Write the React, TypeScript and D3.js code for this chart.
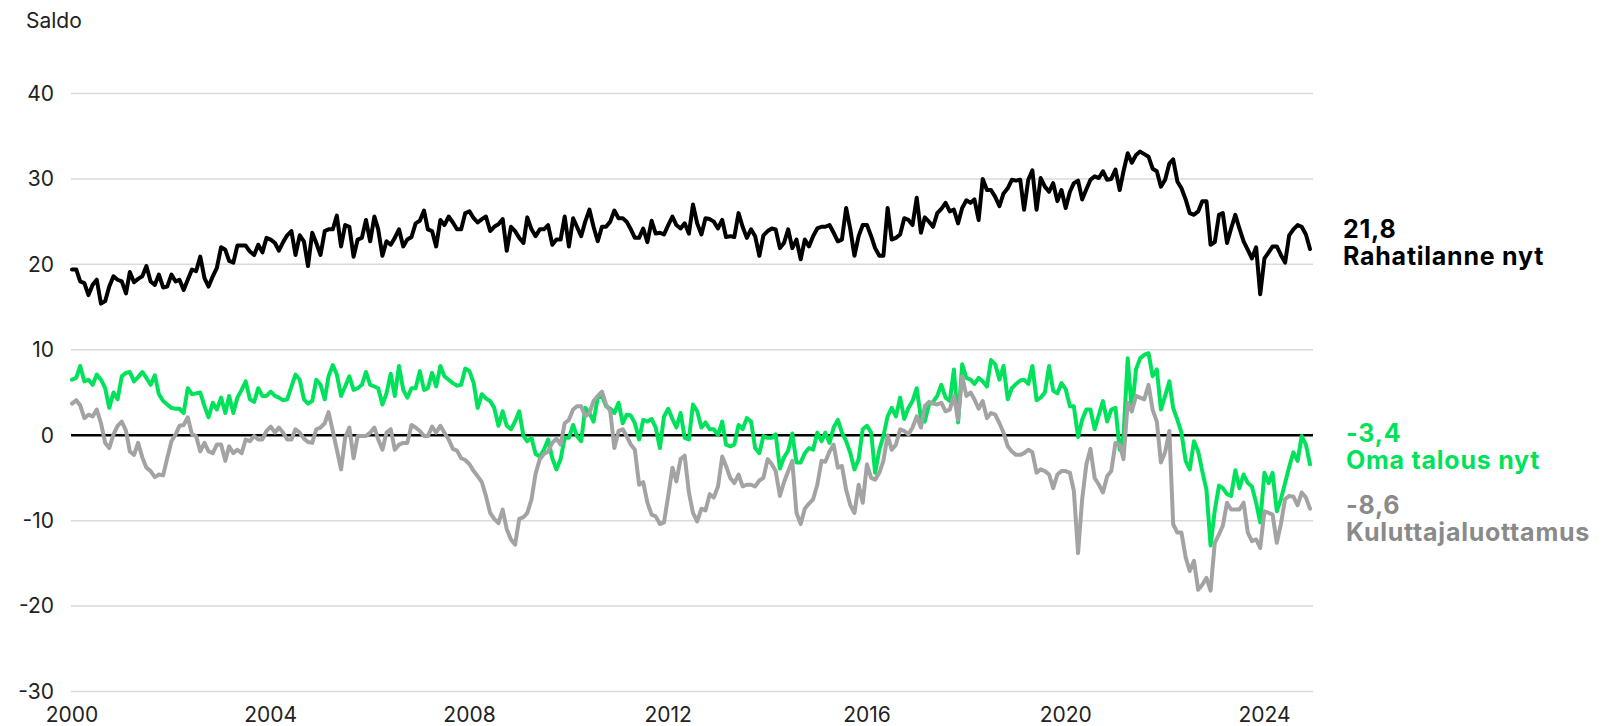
import React from "react";
import * as d3 from "d3";

const width = 1623;
const height = 726;

const GREEN = "#00e25b";
const GRAY_LINE = "#a3a3a3";
const GRAY_TEXT = "#8a8a8a";
const FONT = "Inter, 'Noto Sans', sans-serif";

// monthly observations, Jan 2000 .. Dec 2024
const months = d3.timeMonths(new Date(2000, 0, 1), new Date(2025, 0, 1));
const yearTicks = [2000, 2004, 2008, 2012, 2016, 2020, 2024];
const yTicks = [-30, -20, -10, 0, 10, 20, 30, 40];

// Rahatilanne nyt
const rahatilanne = [
  19.4, 19.4, 18.0, 17.8, 16.4, 17.6, 18.2, 15.4, 15.7, 17.4, 18.6, 18.2,
  18.0, 16.6, 19.1, 17.9, 18.3, 18.6, 19.8, 18.0, 17.6, 18.8, 17.3, 17.4,
  18.8, 18.0, 18.2, 17.0, 18.2, 19.4, 19.2, 20.9, 18.4, 17.4, 18.6, 19.6,
  22.0, 21.7, 20.4, 20.2, 22.2, 22.2, 22.2, 21.5, 21.1, 22.3, 21.4, 23.1,
  22.9, 22.5, 21.6, 22.6, 23.4, 23.9, 21.1, 23.4, 22.7, 19.8, 23.7, 22.5,
  21.1, 23.9, 24.1, 24.1, 25.7, 22.1, 24.6, 24.4, 20.9, 22.9, 23.1, 25.2,
  22.7, 25.6, 24.1, 21.0, 22.7, 22.3, 23.1, 24.1, 22.1, 22.9, 23.2, 24.8,
  25.1, 26.3, 24.1, 23.9, 22.1, 25.2, 24.6, 25.6, 24.9, 24.1, 24.1, 26.0,
  26.2, 25.4, 24.9, 25.3, 25.6, 23.9, 24.4, 24.7, 25.3, 21.6, 24.4, 23.9,
  23.1, 22.5, 25.5, 24.1, 23.3, 24.1, 24.1, 24.6, 22.3, 22.9, 22.9, 25.6,
  22.1, 25.4, 24.4, 23.3, 25.0, 26.4, 24.4, 22.7, 24.4, 24.4, 25.0, 26.3,
  25.4, 25.4, 25.0, 24.1, 23.1, 23.1, 24.2, 22.6, 25.1, 23.6, 23.7, 23.5,
  24.6, 25.6, 24.6, 24.2, 24.8, 23.6, 27.0, 24.8, 23.5, 25.4, 25.3, 25.0,
  24.2, 25.2, 23.2, 23.3, 23.2, 26.0, 24.4, 23.1, 24.1, 23.3, 21.0, 23.4,
  23.9, 24.2, 24.1, 21.9, 22.5, 24.1, 21.9, 22.9, 20.6, 22.9, 22.1, 23.3,
  24.2, 24.4, 24.4, 24.6, 23.7, 22.7, 22.9, 26.6, 24.1, 21.0, 23.3, 24.6,
  24.6, 23.3, 21.9, 21.0, 21.0, 26.6, 22.9, 23.1, 23.5, 25.4, 25.2, 24.6,
  27.8, 23.7, 25.5, 25.0, 24.4, 26.0, 26.5, 27.2, 26.2, 26.4, 24.8, 26.6,
  27.5, 27.2, 27.6, 25.2, 30.0, 28.7, 28.7, 27.9, 26.8, 28.3, 28.9, 29.9,
  29.8, 29.9, 26.4, 29.9, 31.0, 26.4, 30.1, 29.1, 28.5, 29.5, 27.4, 28.7,
  26.6, 28.5, 29.5, 29.8, 27.6, 28.8, 29.9, 30.3, 30.1, 30.9, 29.9, 30.0,
  31.1, 28.7, 30.9, 33.0, 31.9, 32.8, 33.2, 32.9, 32.6, 31.2, 30.9, 29.1,
  29.9, 31.8, 32.3, 29.7, 28.9, 27.6, 26.0, 25.8, 26.2, 27.4, 27.4, 22.3,
  22.6, 25.8, 26.0, 22.5, 24.2, 25.8, 24.2, 22.7, 21.7, 20.7, 22.0, 16.5,
  20.7, 21.4, 22.1, 22.1, 21.1, 20.2, 23.4, 24.1, 24.6, 24.4, 23.5, 21.8,
];

// Oma talous nyt
const omaTalous = [
  6.5, 6.7, 8.1, 6.3, 6.5, 5.9, 7.1, 6.5, 5.5, 3.2, 5.0, 4.2,
  6.9, 7.3, 7.4, 6.3, 6.8, 7.4, 6.7, 5.9, 7.0, 4.8, 4.0, 3.6,
  3.2, 3.1, 3.1, 2.6, 5.5, 4.8, 4.9, 5.0, 3.4, 2.1, 3.8, 3.0,
  4.4, 2.6, 4.6, 2.6, 4.4, 5.3, 6.3, 4.2, 3.9, 5.5, 4.6, 4.6,
  5.1, 4.6, 4.4, 4.1, 4.2, 5.7, 7.1, 6.5, 4.2, 3.7, 4.0, 6.5,
  5.9, 4.2, 6.9, 8.2, 7.1, 4.6, 5.7, 6.9, 5.3, 5.5, 5.9, 7.4,
  5.9, 5.7, 5.5, 3.6, 4.9, 7.2, 4.6, 8.1, 5.3, 4.4, 5.5, 5.5,
  7.5, 5.3, 5.5, 7.3, 5.7, 8.1, 6.9, 6.5, 6.1, 5.8, 5.9, 7.8,
  7.5, 6.1, 3.2, 4.8, 4.3, 4.0, 3.2, 1.1, 2.8, 1.1, 0.7, 1.6,
  2.8, -0.1, -0.7, -0.3, -2.2, -2.5, -1.7, -0.5, -2.7, -4.0, -2.8, -0.3,
  -0.3, 1.2, -0.1, -0.7, 3.2, 2.6, 1.6, 4.4, 4.6, 3.4, 3.1, 2.6,
  3.8, 1.4, 2.4, 2.3, 1.4, -0.5, 1.8, 1.6, 1.9, 0.9, -1.5, 2.2,
  3.1, 1.9, 0.9, 2.6, -0.3, -0.5, 3.6, 2.8, 0.9, 1.5, 0.7, 0.7,
  0.0, 1.6, -1.1, -1.3, -1.1, 1.2, 0.7, 2.0, 1.6, -1.5, -2.1, -0.1,
  -0.3, -0.3, 0.1, -3.9, -2.6, -1.8, 0.2, -3.2, -3.2, -2.1, -1.5, -1.7,
  0.3, -0.7, 0.3, -0.9, 0.9, 1.8, 0.3, -0.7, -2.1, -4.0, -2.8, 0.7,
  1.1, 0.3, -4.4, -1.7, -0.1, 2.2, 3.2, 2.2, 4.4, 1.9, 3.2, 4.0,
  5.5, 2.0, 1.6, 3.6, 3.9, 4.6, 5.9, 4.4, 4.0, 7.7, 1.5, 8.3,
  6.7, 6.5, 6.0, 6.7, 6.3, 5.7, 8.8, 8.3, 6.5, 8.1, 4.2, 5.5,
  6.0, 6.4, 6.5, 6.0, 8.1, 4.1, 4.4, 5.0, 8.1, 5.2, 4.9, 6.1,
  5.4, 3.4, 3.4, -0.2, 1.8, 3.0, 3.0, 0.7, 2.4, 4.0, 1.6, 3.0,
  3.2, -1.7, -0.1, 9.0, 2.8, 7.7, 9.0, 9.4, 9.6, 6.9, 7.7, 3.0,
  4.6, 6.3, 3.2, 1.8, 0.3, -3.0, -4.0, -0.7, -1.9, -4.2, -6.4, -12.9,
  -8.8, -5.9, -6.2, -6.9, -7.1, -4.1, -6.2, -4.6, -5.6, -6.0, -7.9, -10.2,
  -4.4, -5.6, -4.4, -8.9, -7.5, -5.6, -3.7, -2.0, -3.0, -0.1, -1.1, -3.4,
];

// Kuluttajaluottamus
const kuluttaja = [
  3.7, 4.1, 3.5, 2.0, 2.4, 2.2, 3.0, 1.4, -0.9, -1.5, 0.1, 1.1,
  1.6, 0.5, -1.9, -2.3, -0.9, -2.6, -3.8, -4.2, -4.9, -4.6, -4.7, -2.7,
  -0.7, 0.1, 1.1, 1.2, 2.1, 0.1, -0.1, -1.9, -0.9, -1.9, -2.1, -1.1,
  -1.1, -3.0, -1.3, -2.1, -1.7, -2.1, -0.5, -0.7, -0.1, -0.5, -0.5, 0.5,
  1.0, 0.3, 0.9, 0.3, -0.5, -0.5, 0.7, 0.3, -0.4, -0.8, -0.9, 0.7,
  0.9, 1.4, 2.7, 0.5, -1.7, -4.0, -0.3, 0.9, -2.7, -0.1, -0.1, -0.1,
  0.3, 0.9, -0.5, -1.7, 0.3, 0.7, -1.7, -1.1, -0.9, -0.9, 1.2, 0.9,
  0.5, -0.1, -0.1, 1.0, 0.3, 1.1, 0.3, -0.5, -1.6, -1.8, -2.7, -2.9,
  -3.4, -4.2, -4.8, -5.5, -7.1, -9.1, -9.8, -10.3, -8.7, -11.0, -12.2, -12.8,
  -9.8, -9.6, -9.1, -7.5, -4.5, -2.8, -2.2, -1.9, -0.9, -0.4, -1.1, 1.4,
  1.8, 3.0, 3.4, 3.4, 2.2, 2.6, 4.0, 4.6, 5.1, 3.6, 2.8, -1.5,
  0.5, 0.7, -0.1, -1.1, -1.7, -5.8, -5.5, -7.9, -9.3, -9.5, -10.4, -10.2,
  -7.1, -3.8, -5.4, -2.8, -2.4, -6.7, -9.1, -10.1, -8.6, -8.8, -6.9, -7.3,
  -6.0, -2.5, -3.6, -5.0, -5.6, -4.6, -6.0, -5.8, -5.8, -6.0, -5.3, -5.0,
  -2.8, -3.4, -4.2, -7.1, -5.5, -4.2, -3.0, -9.1, -10.4, -8.6, -8.0, -7.5,
  -5.8, -3.0, -3.1, -1.9, -1.1, -3.8, -3.6, -6.4, -8.2, -9.1, -5.8, -7.9,
  -3.4, -5.0, -5.2, -4.4, -3.0, 0.0, -1.7, -1.1, 0.7, 0.5, 0.1, 0.9,
  2.2, 0.9, 3.4, 3.9, 3.7, 3.6, 3.8, 2.8, 3.0, 4.6, 1.8, 6.9,
  4.6, 5.0, 4.2, 3.1, 4.0, 2.0, 2.6, 2.4, 1.4, 0.3, -1.3, -1.9,
  -2.3, -2.3, -2.1, -1.7, -2.0, -4.4, -4.0, -4.2, -4.6, -6.2, -4.6, -4.2,
  -4.2, -4.4, -6.5, -13.8, -7.5, -3.4, -1.6, -5.0, -5.8, -6.7, -4.8, -4.2,
  -0.9, -1.1, -2.8, 3.8, 2.8, 4.6, 4.4, 4.2, 5.9, 3.0, 1.6, -3.2,
  -2.0, 0.5, -10.4, -11.4, -11.4, -14.3, -15.9, -14.7, -18.1, -17.5, -16.7, -18.2,
  -12.6, -11.6, -10.6, -7.9, -8.7, -8.7, -8.7, -7.9, -11.4, -12.4, -12.2, -13.2,
  -8.9, -9.1, -9.3, -12.6, -10.4, -7.5, -7.1, -7.2, -8.2, -6.7, -7.3, -8.6,
];

// drawing order: green under gray, black on top
const series = [
  { key: "oma", values: omaTalous, color: GREEN },
  { key: "kuluttaja", values: kuluttaja, color: GRAY_LINE },
  { key: "raha", values: rahatilanne, color: "#000000" },
];

const fmt = (v: number) => String(v).replace(".", ",");

export default function App() {
  const x = d3
    .scaleTime()
    .domain([months[0], months[months.length - 1]])
    .range([72, 1310]);
  const y = d3.scaleLinear().domain([-30, 40]).range([691.5, 93.5]);

  const line = d3
    .line<number>()
    .x((_, i) => x(months[i]))
    .y((d) => y(d));

  const last = (arr: number[]) => arr[arr.length - 1];

  return (
    <svg
      width={width}
      height={height}
      style={{ position: "absolute", left: 0, top: 0, display: "block", background: "#fff" }}
      fontFamily={FONT}
    >
      <text x={26} y={28} fontSize={21} fill="#222">
        Saldo
      </text>

      {yTicks.map((t) => (
        <g key={t}>
          {t !== 0 && (
            <line x1={71} x2={1313} y1={y(t)} y2={y(t)} stroke="#dadada" strokeWidth={1.5} />
          )}
          <text x={54} y={y(t)} dy="0.35em" textAnchor="end" fontSize={21} fill="#222">
            {t}
          </text>
        </g>
      ))}

      {yearTicks.map((yr) => (
        <text
          key={yr}
          x={x(new Date(yr, 0, 1))}
          y={722}
          textAnchor="middle"
          fontSize={21}
          fill="#222"
        >
          {yr}
        </text>
      ))}

      <line x1={71} x2={1313} y1={y(0)} y2={y(0)} stroke="#000" strokeWidth={2.5} />

      {series.map((s) => (
        <path
          key={s.key}
          d={line(s.values) || ""}
          fill="none"
          stroke={s.color}
          strokeWidth={4}
          strokeLinejoin="round"
          strokeLinecap="round"
        />
      ))}

      <g fontSize={25} fontWeight={700} letterSpacing={0.75}>
        <text x={1343} y={238} fill="#000">{fmt(last(rahatilanne))}</text>
        <text x={1343} y={265} fill="#000">Rahatilanne nyt</text>
        <text x={1346} y={442} fill={GREEN}>{fmt(last(omaTalous))}</text>
        <text x={1346} y={469} fill={GREEN}>Oma talous nyt</text>
        <text x={1346} y={514} fill={GRAY_TEXT}>{fmt(last(kuluttaja))}</text>
        <text x={1346} y={541} fill={GRAY_TEXT}>Kuluttajaluottamus</text>
      </g>
    </svg>
  );
}
